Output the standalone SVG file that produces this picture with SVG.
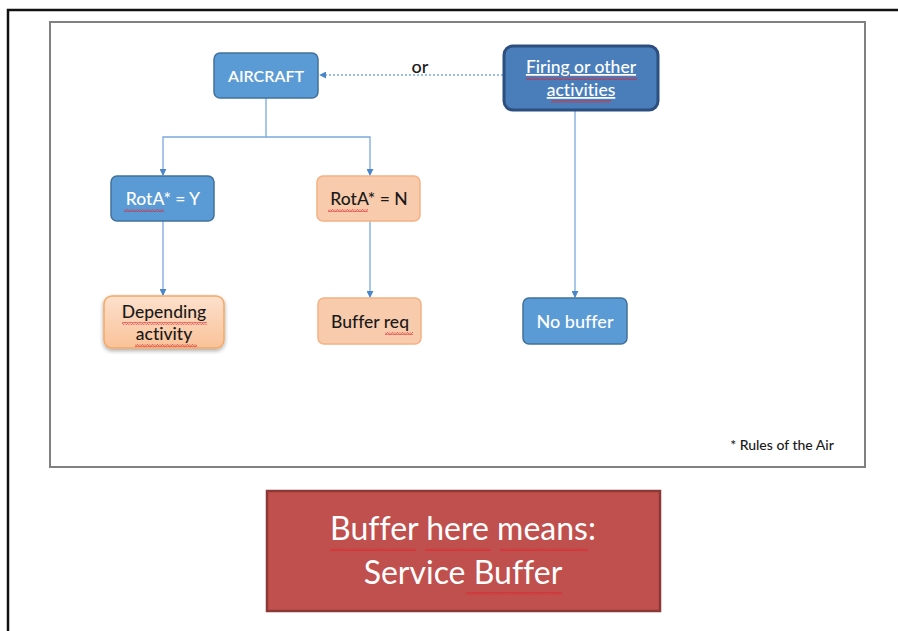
<svg xmlns="http://www.w3.org/2000/svg" width="898" height="631" viewBox="0 0 898 631">
  <style>
    text { font-family: Lato, "Open Sans", "Liberation Sans", sans-serif; text-anchor: middle; font-variant-ligatures: none; }
    .blue { fill: #5b9bd5; stroke: #41719c; stroke-width: 1.5; }
    .peach { fill: #f8cbad; stroke: #f4b183; stroke-width: 1.5; }
    .wt { fill: #ffffff; font-size: 17.5px; font-weight: 500; }
    .bk { fill: #1a1a1a; font-size: 17.5px; font-weight: 500; }
    .conn { fill: none; stroke: #7aa9dc; stroke-width: 1.3; }
    .sq { fill: url(#squiggle); }
  </style>
  <defs>
    <pattern id="squiggle" width="5" height="3" patternUnits="userSpaceOnUse">
      <path d="M0 2.6 L1.25 0.4 L2.5 2.6 L3.75 0.4 L5 2.6" fill="none" stroke="#e0202a" stroke-width="0.7"/>
    </pattern>
    <marker id="arr" viewBox="0 0 8 8" refX="7" refY="4" markerWidth="7" markerHeight="7" orient="auto" markerUnits="userSpaceOnUse">
      <path d="M0 0 L8 4 L0 8 Z" fill="#4a86c8"/>
    </marker>
    <linearGradient id="peachGrad" x1="0" y1="0" x2="0" y2="1">
      <stop offset="0" stop-color="#fde0cc"/>
      <stop offset="1" stop-color="#f9c299"/>
    </linearGradient>
    <filter id="shadow" x="-20%" y="-20%" width="140%" height="150%">
      <feGaussianBlur in="SourceAlpha" stdDeviation="2"/>
      <feOffset dx="0" dy="2"/>
      <feComponentTransfer><feFuncA type="linear" slope="0.35"/></feComponentTransfer>
      <feMerge><feMergeNode/><feMergeNode in="SourceGraphic"/></feMerge>
    </filter>
  </defs>

  <rect width="898" height="631" fill="#ffffff"/>

  <!-- page frame -->
  <path d="M8 631 V10 H898" fill="none" stroke="#111111" stroke-width="2.5"/>

  <!-- diagram panel -->
  <rect x="50" y="22" width="815" height="445" fill="#ffffff" stroke="#808080" stroke-width="2"/>

  <!-- connectors -->
  <g id="connectors">
    <line x1="503" y1="75" x2="320" y2="75" class="conn" stroke="#9cc0e6" stroke-dasharray="2 2" marker-end="url(#arr)"/>
    <path d="M266 98 V137 H163 V175" class="conn" marker-end="url(#arr)"/>
    <path d="M266 137 H370 V175" class="conn" marker-end="url(#arr)"/>
    <line x1="163" y1="221" x2="163" y2="295" class="conn" marker-end="url(#arr)"/>
    <line x1="370" y1="221" x2="370" y2="297" class="conn" marker-end="url(#arr)"/>
    <line x1="575" y1="111" x2="575" y2="297" class="conn" marker-end="url(#arr)"/>
  </g>

  <text x="420" y="73" style="font-size:18px;fill:#1a1a1a;font-weight:500">or</text>

  <g id="aircraft">
    <rect x="214" y="53" width="104" height="45" rx="6" class="blue"/>
    <text x="266" y="82" class="wt" style="font-size:16px;font-weight:600">AIRCRAFT</text>
  </g>

  <g id="firing">
    <rect x="504" y="46" width="154" height="64" rx="9" fill="#4a7ebb" stroke="#2c4f80" stroke-width="3"/>
    <text x="581" y="73" class="wt" text-decoration="underline">Firing or other</text>
    <text x="581" y="96" class="wt" text-decoration="underline">activities</text>
    <rect x="526" y="77" width="111" height="3" class="sq"/>
    <rect x="551" y="100" width="60" height="3" class="sq"/>
  </g>

  <g id="rota-y">
    <rect x="111" y="176" width="103" height="45" rx="6" class="blue"/>
    <text x="163" y="205" class="wt">RotA* = Y</text>
    <rect x="124" y="209" width="40" height="3" class="sq"/>
  </g>

  <g id="rota-n">
    <rect x="317" y="176" width="103" height="45" rx="6" class="peach"/>
    <text x="369" y="205" class="bk">RotA* = N</text>
    <rect x="328" y="209" width="40" height="3" class="sq"/>
  </g>

  <g id="depending">
    <rect x="104" y="296" width="120" height="52" rx="8" fill="url(#peachGrad)" stroke="#f4a865" stroke-width="1.5" filter="url(#shadow)"/>
    <text x="164" y="318" class="bk">Depending</text>
    <text x="164" y="340" class="bk">activity</text>
    <rect x="122" y="322" width="85" height="3" class="sq"/>
    <rect x="135" y="344" width="62" height="3" class="sq"/>
  </g>

  <g id="buffer-req">
    <rect x="318" y="298" width="103" height="46" rx="6" class="peach"/>
    <text x="370" y="328" class="bk">Buffer req</text>
    <rect x="385" y="332" width="28" height="3" class="sq"/>
  </g>

  <g id="no-buffer">
    <rect x="523" y="298" width="104" height="46" rx="6" class="blue"/>
    <text x="575" y="328" class="wt" style="font-size:18px">No buffer</text>
  </g>

  <text x="782" y="450" style="font-size:14px;fill:#1a1a1a;font-weight:500">* Rules of the Air</text>

  <g id="note">
    <rect x="267" y="491" width="393" height="120" fill="#c0504d" stroke="#8c3836" stroke-width="2.5"/>
    <text x="463" y="540" style="font-size:32px;fill:#ffffff">Buffer here means:</text>
    <text x="463" y="584" style="font-size:32px;fill:#ffffff">Service Buffer</text>
    <rect x="330" y="548" width="86" height="3" class="sq"/>
    <rect x="425" y="548" width="66" height="3" class="sq"/>
    <rect x="500" y="548" width="88" height="3" class="sq"/>
    <rect x="466" y="592" width="96" height="3" class="sq"/>
  </g>
</svg>
